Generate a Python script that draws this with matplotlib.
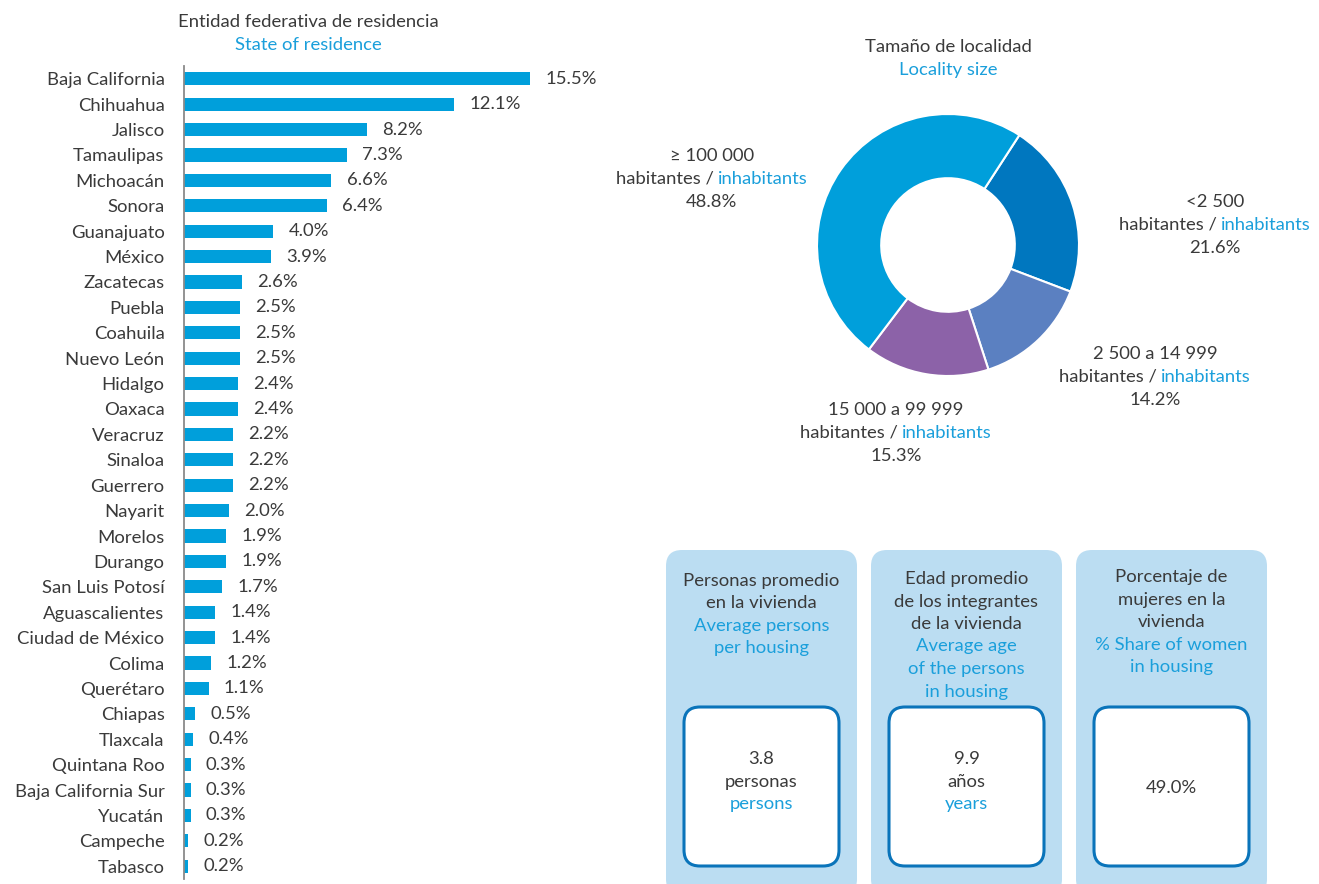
import matplotlib
matplotlib.use("Agg")
import matplotlib.pyplot as plt
from matplotlib.patches import FancyBboxPatch
import numpy as np

plt.rcParams['font.family'] = ['Lato', 'DejaVu Sans']

# datos
estados = ['Baja California', 'Chihuahua', 'Jalisco', 'Tamaulipas', 'Michoacán', 'Sonora',
           'Guanajuato', 'México', 'Zacatecas', 'Puebla', 'Coahuila', 'Nuevo León', 'Hidalgo',
           'Oaxaca', 'Veracruz', 'Sinaloa', 'Guerrero', 'Nayarit', 'Morelos', 'Durango',
           'San Luis Potosí', 'Aguascalientes', 'Ciudad de México', 'Colima', 'Querétaro',
           'Chiapas', 'Tlaxcala', 'Quintana Roo', 'Baja California Sur', 'Yucatán',
           'Campeche', 'Tabasco']
pct_estado = [15.5, 12.1, 8.2, 7.3, 6.6, 6.4, 4.0, 3.9, 2.6, 2.5, 2.5, 2.5, 2.4, 2.4, 2.2,
              2.2, 2.2, 2.0, 1.9, 1.9, 1.7, 1.4, 1.4, 1.2, 1.1, 0.5, 0.4, 0.3, 0.3, 0.3, 0.2, 0.2]

localidad = ['<2 500', '2 500 a 14 999', '15 000 a 99 999', '≥ 100 000']
pct_localidad = [21.6, 14.2, 15.3, 48.8]

indicadores_es = [['Personas promedio', 'en la vivienda'],
                  ['Edad promedio', 'de los integrantes', 'de la vivienda'],
                  ['Porcentaje de', 'mujeres en la', 'vivienda']]
indicadores_en = [['Average persons', 'per housing'],
                  ['Average age', 'of the persons', 'in housing'],
                  ['% Share of women', 'in housing']]
valores = ['3.8', '9.9', '49.0%']
unidades_es = ['personas', 'años', '']
unidades_en = ['persons', 'years', '']

W, H = 1319, 884
AZUL = '#009FDB'
TXT_AZUL = '#1A9FDB'
GRIS = '#3a3a3a'
FS = 13.3

fig = plt.figure(figsize=(W / 100, H / 100), dpi=100)

# ---- capa de fondo en pixeles
bg = fig.add_axes([0, 0, 1, 1])
bg.set_xlim(0, W)
bg.set_ylim(H, 0)
bg.axis('off')

# ---- barras por entidad
x0, x1, ytop, ybot = 184, 640, 66, 879
ax = fig.add_axes([x0 / W, 1 - ybot / H, (x1 - x0) / W, (ybot - ytop) / H])
y = np.arange(len(estados))
ax.barh(y, pct_estado, height=0.52, color=AZUL)
ax.set_xlim(0, (x1 - x0) / 22.32)
ax.set_ylim(len(estados) - 0.5, -0.5)
ax.set_yticks(y)
ax.set_yticklabels(estados, fontsize=FS, color=GRIS)
ax.tick_params(axis='y', length=0, pad=14)
ax.set_xticks([])
for s in ['top', 'right', 'bottom']:
    ax.spines[s].set_visible(False)
ax.spines['left'].set_color('#8a8a8a')
ax.spines['left'].set_linewidth(1.3)
ax.patch.set_alpha(0)
for i, v in enumerate(pct_estado):
    ax.annotate(f'{v:.1f}%', (v, i), xytext=(11, 0), textcoords='offset points',
                va='center', ha='left', fontsize=FS, color=GRIS)

bg.text(308, 22, 'Entidad federativa de residencia', ha='center', va='center', fontsize=FS, color=GRIS)
bg.text(308, 45, 'State of residence', ha='center', va='center', fontsize=FS, color=TXT_AZUL)

# ---- dona
cx, cy, r = 948, 245, 131
pax = fig.add_axes([(cx - r) / W, 1 - (cy + r) / H, 2 * r / W, 2 * r / H])
colores = ['#0077BF', '#5B80C1', '#8C62A8', '#009FDB']
pax.pie(pct_localidad, colors=colores, startangle=57, counterclock=False, radius=1,
        wedgeprops=dict(width=0.49, edgecolor='white', linewidth=1.5))
pax.set_xlim(-1, 1)
pax.set_ylim(-1, 1)
pax.set_aspect('equal')

bg.text(cx, 47, 'Tamaño de localidad', ha='center', va='center', fontsize=FS, color=GRIS)
bg.text(cx, 70, 'Locality size', ha='center', va='center', fontsize=FS, color=TXT_AZUL)

fig.canvas.draw()
renderer = fig.canvas.get_renderer()


def linea_dos_colores(xc, yc, a, b):
    t1 = bg.text(0, yc, a, ha='left', va='center', fontsize=FS, color=GRIS)
    t2 = bg.text(0, yc, b, ha='left', va='center', fontsize=FS, color=TXT_AZUL)
    w1 = t1.get_window_extent(renderer).width
    w2 = t2.get_window_extent(renderer).width
    left = xc - (w1 + w2) / 2
    t1.set_x(left)
    t2.set_x(left + w1)


etiquetas_pos = [(1215, 202), (1155, 354), (896, 410), (712, 156)]
for nombre, v, (lx, ly) in zip(localidad, pct_localidad, etiquetas_pos):
    bg.text(lx, ly, nombre, ha='center', va='center', fontsize=FS, color=GRIS)
    linea_dos_colores(lx, ly + 23, 'habitantes / ', 'inhabitants')
    bg.text(lx, ly + 46, f'{v:.1f}%', ha='center', va='center', fontsize=FS, color=GRIS)

# ---- recuadros de indicadores
caja_x = [666, 871, 1076]
for k, bx in enumerate(caja_x):
    bg.add_patch(FancyBboxPatch((bx, 550), 191, 345, boxstyle='round,pad=0,rounding_size=16',
                                facecolor='#BBDDF2', edgecolor='none'))
    bg.add_patch(FancyBboxPatch((bx + 18, 707), 155, 159, boxstyle='round,pad=0,rounding_size=16',
                                facecolor='white', edgecolor='#0A74BA', linewidth=2.2))
    xc = bx + 95.5
    lineas = [(t, GRIS) for t in indicadores_es[k]] + [(t, TXT_AZUL) for t in indicadores_en[k]]
    y0 = 581 if len(lineas) == 4 else 579
    if k == 2:
        y0 = 577
    for j, (t, c) in enumerate(lineas):
        bg.text(xc, y0 + j * 22.5, t, ha='center', va='center', fontsize=FS, color=c)
    if unidades_es[k]:
        bg.text(xc, 759, valores[k], ha='center', va='center', fontsize=FS, color=GRIS)
        bg.text(xc, 782, unidades_es[k], ha='center', va='center', fontsize=FS, color=GRIS)
        bg.text(xc, 804, unidades_en[k], ha='center', va='center', fontsize=FS, color=TXT_AZUL)
    else:
        bg.text(xc, 788, valores[k], ha='center', va='center', fontsize=FS, color=GRIS)

fig.savefig('out.png', dpi=100)
